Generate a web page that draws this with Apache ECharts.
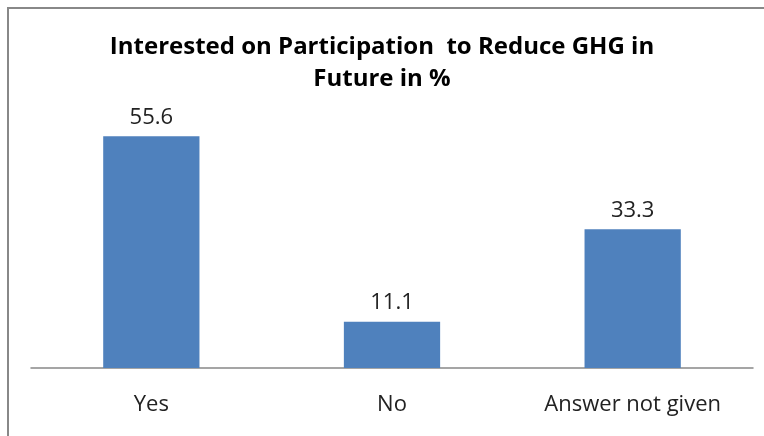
<!DOCTYPE html>
<html>
<head>
<meta charset="utf-8">
<script src="https://cdn.jsdelivr.net/npm/echarts@6/dist/echarts.min.js"></script>
<style>
  html, body { margin: 0; padding: 0; background: #fff; }
  #frame { position: absolute; left: 7px; top: 7px; width: 800px; height: 500px;
           border-left: 2px solid #888; border-top: 2px solid #888; }
  #chart { position: absolute; left: 0; top: 0; width: 764px; height: 436px; }
</style>
</head>
<body>
<div id="frame"></div>
<div id="chart"></div>
<script>
const categories = ['Yes', 'No', 'Answer not given'];
const percentValues = [55.6, 11.1, 33.3];
const chartTitle = 'Interested on Participation  to Reduce GHG in\nFuture in %';

const chart = echarts.init(document.getElementById('chart'));
chart.setOption({
    animation: false,
    title: {
        text: chartTitle,
        left: 'center',
        top: 26,
        textStyle: {
            fontFamily: 'Open Sans',
            fontWeight: 'bold',
            fontSize: 24,
            lineHeight: 32,
            color: '#000'
        }
    },
    grid: { left: 31, right: 11, top: 118, bottom: 68 },
    xAxis: {
        type: 'category',
        data: categories,
        axisLine: { lineStyle: { color: '#888', width: 1.5 } },
        axisTick: { show: false },
        axisLabel: {
            margin: 26,
            fontFamily: 'Open Sans',
            fontSize: 22,
            color: '#222'
        }
    },
    yAxis: {
        type: 'value',
        min: 0,
        max: 60,
        show: false
    },
    series: [{
        type: 'bar',
        data: percentValues,
        barWidth: '40%',
        itemStyle: { color: '#4F81BD' },
        label: {
            show: true,
            position: 'top',
            distance: 8,
            fontFamily: 'Open Sans',
            fontSize: 22,
            color: '#222'
        }
    }]
});
</script>
</body>
</html>
